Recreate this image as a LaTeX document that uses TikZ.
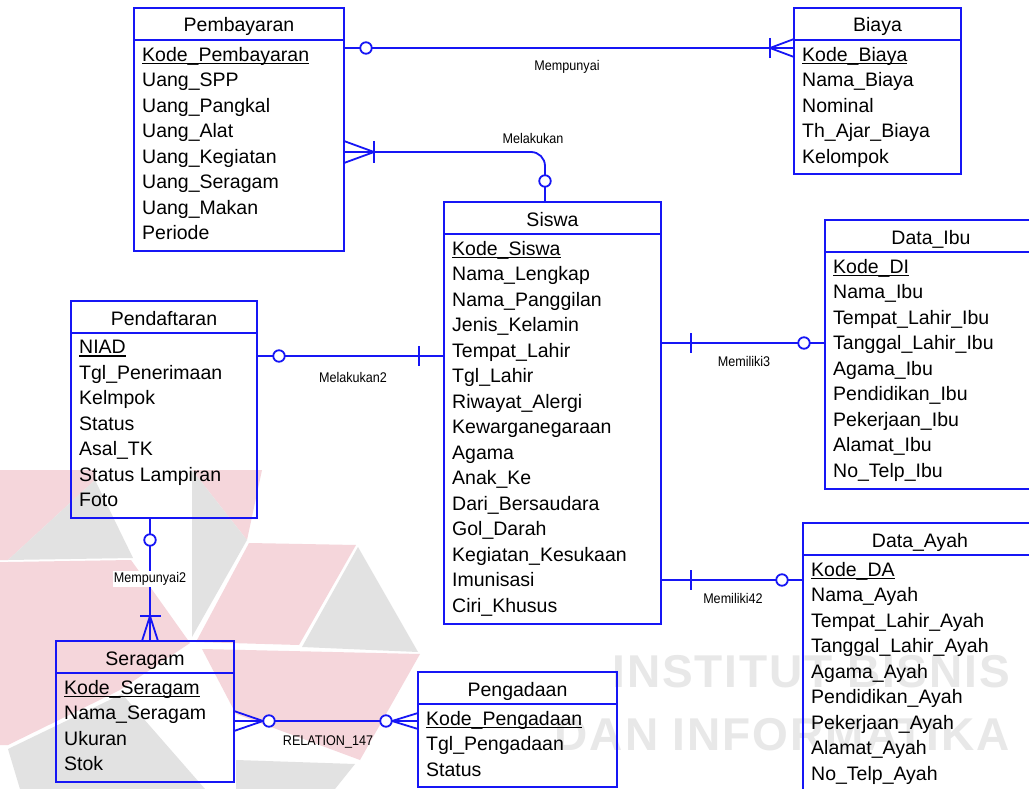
\documentclass[tikz,border=0pt]{standalone}
\usepackage{fontspec}
\setmainfont{Liberation Sans}
\newfontfamily\lblfont[FakeStretch=0.9]{Liberation Sans}
\newfontfamily\wmfont[LetterSpace=4]{Liberation Sans}
\usetikzlibrary{calc}

\definecolor{erblue}{RGB}{22,22,245}
\definecolor{wmpink}{RGB}{245,214,219}
\definecolor{wmgray}{RGB}{226,226,226}
\definecolor{wmtext}{RGB}{232,232,232}

% underlined primary key
\newcommand\pkey[1]{\setbox0\hbox{#1}\rlap{\rule[-3pt]{\wd0}{1.3pt}}\box0}

\tikzset{
  ebox/.style={draw=erblue, line width=1.8pt, rectangle, inner sep=0pt, outer sep=0pt},
  eline/.style={draw=erblue, line width=1.8pt},
  etitle/.style={font=\fontsize{19.5}{23}\selectfont, anchor=base, inner sep=0pt},
  eattr/.style={font=\fontsize{19.5}{25.5}\selectfont, align=left, anchor=north west,
                inner sep=0pt, execute at begin node=\strut},
  rel/.style={draw=erblue, line width=1.8pt},
  optc/.style={circle, draw=erblue, line width=1.8pt, fill=white, minimum size=11.5pt, inner sep=0pt},
  rlabel/.style={font=\lblfont\fontsize{14}{14}\selectfont, inner sep=1pt},
  wmark/.style={font=\wmfont\bfseries\fontsize{46}{46}\selectfont, text=wmtext, inner sep=0pt, anchor=base east}
}

% entity: name, x, y, width, height, title, attribute rows
\newcommand\erentity[7]{%
  \node[ebox, minimum width=#4pt, minimum height=#5pt, anchor=north west] (#1) at (#2,#3) {};
  \draw[eline] ([yshift=-32pt]#1.north west) -- ([yshift=-32pt]#1.north east);
  \node[etitle] (#1-title) at ([yshift=-24pt]#1.north) {#6};
  \node[eattr] (#1-attrs) at ([xshift=8pt,yshift=-39pt]#1.north west) {#7};
}

\begin{document}
\begin{tikzpicture}[x=1pt,y=-1pt]
\useasboundingbox (0,0) rectangle (1029,789);
\clip (0,0) rectangle (1029,789);
\fill[white] (0,0) rectangle (1029,789);

% background logo and institute name
\fill[wmpink] (0,470) -- (95,470) -- (95,480) -- (8,560) -- (0,560) -- cycle;
\fill[wmgray] (8,560) -- (95,480) -- (133,558) -- cycle;
\fill[wmpink] (192,470) -- (262,470) -- (247,540) -- cycle;
\fill[wmgray] (192,470) -- (247,540) -- (192,637) -- cycle;
\fill[wmpink] (249,543) -- (356,545) -- (299,645) -- (196,642) -- cycle;
\fill[wmgray] (358,547) -- (302,647) -- (418,652) -- cycle;
\fill[wmpink] (202,649) -- (420,654) -- (360,760) -- (236,714) -- cycle;
\fill[wmpink] (8,562) -- (131,560) -- (190,643) -- (120,690) -- (8,745) -- (0,745) -- (0,562) -- cycle;
\fill[wmgray] (8,749) -- (122,694) -- (205,789) -- (20,789) -- cycle;
\fill[wmgray] (236,760) -- (355,764) -- (335,789) -- (236,789) -- cycle;
\node[wmark] (wm1) at (1010,687) {INSTITUT BISNIS};
\node[wmark] (wm2) at (1010,750) {DAN INFORMATIKA};

% entities
\erentity{pemb}{134}{8}{210}{243}{Pembayaran}{\pkey{Kode\_Pembayaran}\\Uang\_SPP\\Uang\_Pangkal\\Uang\_Alat\\Uang\_Kegiatan\\Uang\_Seragam\\Uang\_Makan\\Periode}
\erentity{biaya}{794}{8}{167}{166}{Biaya}{\pkey{Kode\_Biaya}\\Nama\_Biaya\\Nominal\\Th\_Ajar\_Biaya\\Kelompok}
\erentity{siswa}{444}{202}{217}{422}{Siswa}{\pkey{Kode\_Siswa}\\Nama\_Lengkap\\Nama\_Panggilan\\Jenis\_Kelamin\\Tempat\_Lahir\\Tgl\_Lahir\\Riwayat\_Alergi\\Kewarganegaraan\\Agama\\Anak\_Ke\\Dari\_Bersaudara\\Gol\_Darah\\Kegiatan\_Kesukaan\\Imunisasi\\Ciri\_Khusus}
\erentity{pend}{71}{301}{186}{217}{Pendaftaran}{\pkey{NIAD}\\Tgl\_Penerimaan\\Kelmpok\\Status\\Asal\_TK\\Status Lampiran\\Foto}
\erentity{ibu}{825}{220}{212}{269}{Data\_Ibu}{\pkey{Kode\_DI}\\Nama\_Ibu\\Tempat\_Lahir\_Ibu\\Tanggal\_Lahir\_Ibu\\Agama\_Ibu\\Pendidikan\_Ibu\\Pekerjaan\_Ibu\\Alamat\_Ibu\\No\_Telp\_Ibu}
\erentity{ayah}{803}{523}{234}{272}{Data\_Ayah}{\pkey{Kode\_DA}\\Nama\_Ayah\\Tempat\_Lahir\_Ayah\\Tanggal\_Lahir\_Ayah\\Agama\_Ayah\\Pendidikan\_Ayah\\Pekerjaan\_Ayah\\Alamat\_Ayah\\No\_Telp\_Ayah}
\erentity{serag}{56}{641}{178}{141}{Seragam}{\pkey{Kode\_Seragam}\\Nama\_Seragam\\Ukuran\\Stok}
\erentity{peng}{418}{672}{199}{115}{Pengadaan}{\pkey{Kode\_Pengadaan}\\Tgl\_Pengadaan\\Status}

% Mempunyai: Pembayaran -- Biaya
\draw[rel] ([yshift=-40pt]pemb.north east) coordinate (mp-a) -- ([yshift=-40pt]biaya.north west) coordinate (mp-b);
\node[optc] (mp-o) at ([xshift=22pt]mp-a) {};
\draw[rel] ([xshift=-24pt,yshift=10pt]mp-b) -- ([xshift=-24pt,yshift=-10pt]mp-b);
\draw[rel] ([yshift=9pt]mp-b) -- ([xshift=-24pt]mp-b) -- ([yshift=-9pt]mp-b);
\node[rlabel] (mp-l) at (567,67) {Mempunyai};

% Melakukan: Pembayaran -- Siswa
\draw[rel, rounded corners=14pt] ([yshift=-144pt]pemb.north east) coordinate (mk-a) -| ([xshift=101pt]siswa.north west) coordinate (mk-b);
\node[optc] (mk-o) at ([yshift=21pt]mk-b) {};
\draw[rel] ([xshift=30pt,yshift=11pt]mk-a) -- ([xshift=30pt,yshift=-11pt]mk-a);
\draw[rel] ([yshift=11pt]mk-a) -- ([xshift=30pt]mk-a) -- ([yshift=-11pt]mk-a);
\node[rlabel] (mk-l) at (533,138) {Melakukan};

% Melakukan2: Pendaftaran -- Siswa
\draw[rel] ([yshift=-55pt]pend.north east) coordinate (mk2-a) -- (mk2-a -| siswa.west) coordinate (mk2-b);
\node[optc] (mk2-o) at ([xshift=22pt]mk2-a) {};
\draw[rel] ([xshift=-25pt,yshift=10pt]mk2-b) -- ([xshift=-25pt,yshift=-10pt]mk2-b);
\node[rlabel] (mk2-l) at (353,377) {Melakukan2};

% Memiliki3: Siswa -- Data_Ibu
\draw[rel] ([yshift=-141pt]siswa.north east) coordinate (m3-a) -- (m3-a -| ibu.west) coordinate (m3-b);
\draw[rel] ([xshift=30pt,yshift=10pt]m3-a) -- ([xshift=30pt,yshift=-10pt]m3-a);
\node[optc] (m3-o) at ([xshift=-21pt]m3-b) {};
\node[rlabel] (m3-l) at (744,361) {Memiliki3};

% Memiliki42: Siswa -- Data_Ayah
\draw[rel] ([yshift=-378pt]siswa.north east) coordinate (m4-a) -- (m4-a -| ayah.west) coordinate (m4-b);
\draw[rel] ([xshift=30pt,yshift=10pt]m4-a) -- ([xshift=30pt,yshift=-10pt]m4-a);
\node[optc] (m4-o) at ([xshift=-21pt]m4-b) {};
\node[rlabel] (m4-l) at (733,598) {Memiliki42};

% Mempunyai2: Pendaftaran -- Seragam
\draw[rel] ([xshift=79pt]pend.south west) coordinate (mp2-a) -- (mp2-a |- serag.north) coordinate (mp2-b);
\node[optc] (mp2-o) at ([yshift=-22pt]mp2-a) {};
\draw[rel] ([xshift=-10pt,yshift=25pt]mp2-b) -- ([xshift=11pt,yshift=25pt]mp2-b);
\draw[rel] ([xshift=-8pt]mp2-b) -- ([yshift=25pt]mp2-b) -- ([xshift=8pt]mp2-b);
\node[rlabel, fill=white] (mp2-l) at (150,579) {Mempunyai2};

% RELATION_147: Seragam -- Pengadaan
\draw[rel] ([yshift=-80pt]serag.north east) coordinate (r-a) -- (r-a -| peng.west) coordinate (r-b);
\draw[rel] ([yshift=10pt]r-a) -- ([xshift=29pt]r-a) -- ([yshift=-10pt]r-a);
\node[optc] (r-o1) at ([xshift=35pt]r-a) {};
\draw[rel] ([yshift=8pt]r-b) -- ([xshift=-26pt]r-b) -- ([yshift=-8pt]r-b);
\node[optc] (r-o2) at ([xshift=-32pt]r-b) {};
\node[rlabel] (r-l) at (328,742) {RELATION\_147};
\end{tikzpicture}
\end{document}
